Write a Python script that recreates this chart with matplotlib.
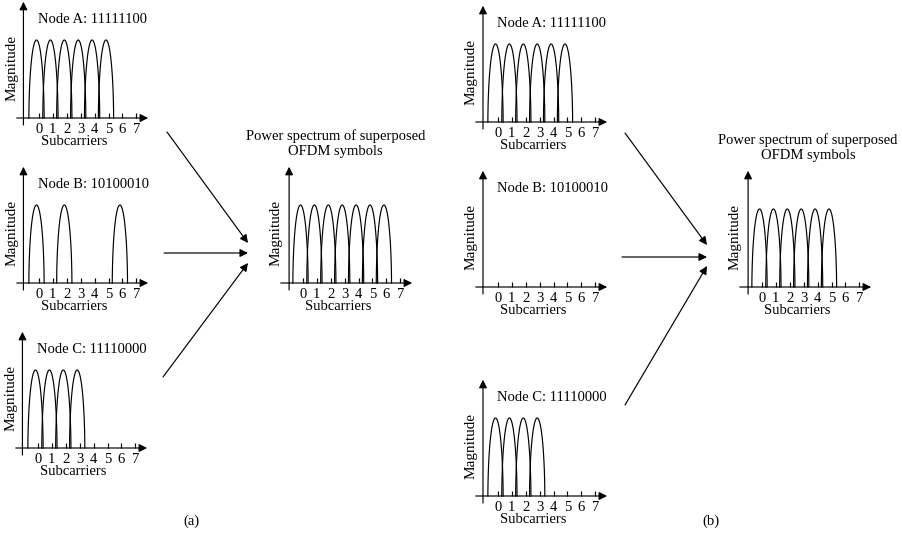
import numpy as np
import matplotlib
matplotlib.use("Agg")
import matplotlib.pyplot as plt

plt.rcParams['font.family'] = ['Liberation Serif', 'DejaVu Serif']

# ---------------- data ----------------
subcarriers = [0, 1, 2, 3, 4, 5, 6, 7]
tick_labels = ['0', '1', '2', '3', '4', '5', '6', '7']
node_titles = ['Node A: 11111100', 'Node B: 10100010', 'Node C: 11110000']

# (a) every node transmits its bit pattern
a_node_A = [1, 1, 1, 1, 1, 1, 0, 0]
a_node_B = [1, 0, 1, 0, 0, 0, 1, 0]
a_node_C = [1, 1, 1, 1, 0, 0, 0, 0]
a_superposed = [1, 1, 1, 1, 1, 1, 1, 0]

# (b) node B silent
b_node_A = [1, 1, 1, 1, 1, 1, 0, 0]
b_node_B = [0, 0, 0, 0, 0, 0, 0, 0]
b_node_C = [1, 1, 1, 1, 0, 0, 0, 0]
b_superposed = [1, 1, 1, 1, 1, 1, 0, 0]

sum_title = 'Power spectrum of superposed\nOFDM symbols'
x_label = 'Subcarriers'
y_label = 'Magnitude'

# ---------------- layout ----------------
W, H = 903, 535
fig = plt.figure(figsize=(W / 100, H / 100), dpi=100)
UX, UY = 13.9, 78.0          # pixels per subcarrier / per unit magnitude
XMIN, XMAX, YMIN, YMAX = -2.2, 8.3, -0.45, 1.6
FS = 10.5
LW = 0.85


def make_axes(x0, ay):
    left = x0 + XMIN * UX
    width = (XMAX - XMIN) * UX
    bottom_px = ay - YMIN * UY
    height = (YMAX - YMIN) * UY
    ax = fig.add_axes([left / W, (H - bottom_px) / H, width / W, height / H])
    ax.set_xlim(XMIN, XMAX)
    ax.set_ylim(YMIN, YMAX)
    ax.axis('off')
    return ax


def lobe(ax, c, amp, a=0.55, yc=-0.05):
    # elliptical lobe, cut at the baseline
    b = amp - yc
    t0 = np.arccos(-yc / b)
    t = np.linspace(-t0, t0, 120)
    ax.plot(c + a * np.sin(t), yc + b * np.cos(t), color='black', lw=LW,
            clip_on=False)


def arrow(ax, p0, p1, coords='data', ms=12):
    ax.annotate('', xy=p1, xytext=p0, xycoords=coords, textcoords=coords,
                arrowprops=dict(arrowstyle='-|>', color='black', lw=LW,
                                mutation_scale=ms, shrinkA=0, shrinkB=0),
                annotation_clip=False)


def panel(x0, ay, values, title=None, yax=-1.12, sum_title_pos=None):
    ax = make_axes(x0, ay)
    arrow(ax, (yax, -0.09), (yax, 1.49))
    arrow(ax, (-1.6, 0), (7.85, 0))
    ax.vlines(subcarriers, 0, 0.07, color='black', lw=LW)
    for k, v in zip(subcarriers, values):
        if v:
            lobe(ax, k - 0.18, v)
    for k, lab in zip(subcarriers, tick_labels):
        ax.text(k, -0.145, lab, ha='center', va='center', fontsize=FS)
    ax.text(2.5, -0.30, x_label, ha='center', va='center', fontsize=FS)
    ax.text(-1.95, 0.64, y_label, rotation=90, ha='center', va='center',
            fontsize=11)
    if title is not None:
        ax.text(-0.1, 1.26, title, ha='left', va='center', fontsize=FS)
    if sum_title_pos is not None:
        ax.text(sum_title_pos, 1.79, sum_title, ha='center', va='center',
                fontsize=FS, linespacing=1.25)
    return ax


# panel (a)
panel(39, 118, a_node_A, node_titles[0])
panel(39, 283, a_node_B, node_titles[1])
panel(38, 448, a_node_C, node_titles[2])
panel(303, 283, a_superposed, yax=-1.0, sum_title_pos=2.35)

# panel (b)
panel(498, 122, b_node_A, node_titles[0], yax=-1.08)
panel(498, 287, b_node_B, node_titles[1], yax=-1.08)
panel(498, 496, b_node_C, node_titles[2], yax=-1.08)
panel(762, 287, b_superposed, yax=-1.0, sum_title_pos=3.3)

# connecting arrows (pixel coordinates, origin top-left)
fax = fig.add_axes([0, 0, 1, 1])
fax.set_xlim(0, W)
fax.set_ylim(H, 0)
fax.axis('off')
fax.patch.set_alpha(0)
arrow(fax, (167, 132), (248, 243))
arrow(fax, (164, 253), (248, 253))
arrow(fax, (163, 377), (248, 263))
arrow(fax, (625, 133), (707, 245))
arrow(fax, (622, 257), (707, 257))
arrow(fax, (625, 405), (707, 266))

fax.text(191, 521, '(a)', ha='center', va='center', fontsize=FS)
fax.text(711, 521, '(b)', ha='center', va='center', fontsize=FS)

fig.savefig('out.png', dpi=100)
